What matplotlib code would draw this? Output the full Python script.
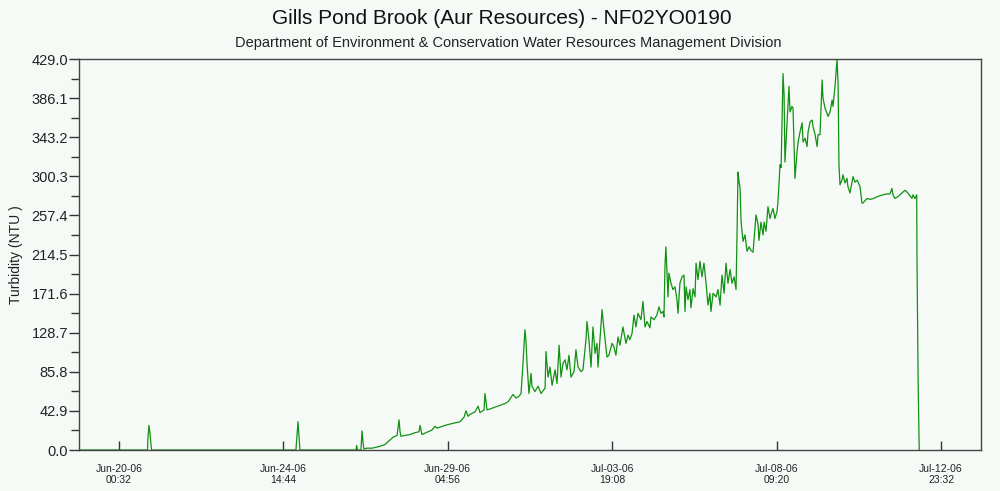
import datetime as dt
import matplotlib
matplotlib.use("Agg")
import matplotlib.pyplot as plt
import matplotlib.dates as mdates
from matplotlib.ticker import MultipleLocator, FormatStrFormatter

# hours after Jun-20-06 00:32, turbidity (NTU)
hours = [-26.1, 19.1, 19.4, 20.1, 20.8, 21.8, 118.6, 119.3, 120.0, 120.7, 121.3,
         158.9, 159.3, 159.9, 162.2, 162.9, 163.6, 164.2, 166.2, 169.6, 174.9,
         178.3, 180.3, 183.7, 186.4, 187.0, 187.7, 188.4, 189.0, 191.7, 195.1,
         198.4, 201.1, 201.8, 203.1, 207.1, 209.8, 211.8, 213.2, 218.5, 223.2,
         228.6, 231.3, 232.6, 234.0, 235.3, 238.7, 240.7, 242.0, 244.7, 245.3,
         246.7, 248.7, 252.0, 255.4, 258.7, 260.8, 262.1, 264.1, 266.1, 268.1,
         269.5, 270.8, 272.1, 272.8, 273.5, 274.8, 276.2, 276.8, 278.8, 280.9,
         282.9, 285.6, 286.2, 287.6, 288.9, 290.3, 292.3, 293.6, 295.0, 296.3,
         297.6, 299.0, 300.3, 301.6, 303.0, 305.0, 306.3, 307.7, 309.7, 311.0,
         313.0, 313.7, 315.0, 316.4, 317.7, 319.1, 320.4, 321.1, 322.4, 323.8,
         325.1, 327.1, 328.4, 330.5, 331.8, 333.1, 334.5, 335.8, 337.8, 339.8,
         341.2, 342.5, 343.9, 345.2, 346.5, 347.9, 349.9, 351.2, 352.6, 353.9,
         355.9, 356.6, 358.6, 360.6, 361.9, 363.3, 364.6, 365.3, 366.0, 366.6,
         368.0, 368.6, 370.0, 371.3, 372.7, 374.0, 374.7, 376.0, 377.4, 378.7,
         379.4, 380.1, 381.4, 382.7, 383.4, 384.8, 386.1, 386.8, 388.1, 389.4,
         390.8, 392.1, 393.5, 394.8, 396.1, 396.8, 398.2, 400.2, 401.5, 402.9,
         404.2, 405.6, 406.9, 408.2, 409.6, 410.9, 412.3, 413.6, 414.3, 414.9,
         415.6, 416.3, 417.0, 418.3, 419.6, 421.0, 422.3, 423.6, 425.0, 427.0,
         428.4, 429.0, 430.3, 431.7, 432.4, 433.7, 435.0, 436.4, 437.7, 438.4,
         439.7, 441.1, 441.7, 443.1, 443.8, 444.4, 445.1, 445.8, 446.4, 447.8,
         449.1, 449.8, 451.1, 451.8, 453.1, 454.5, 455.2, 456.5, 457.9, 458.5,
         459.9, 461.2, 461.9, 463.2, 464.6, 465.2, 466.6, 467.9, 468.6, 469.9,
         471.3, 471.9, 473.3, 474.6, 475.3, 476.6, 478.0, 478.6, 480.0, 481.3,
         482.0, 482.6, 483.3, 484.6, 485.3, 486.6, 488.0, 488.6, 490.0, 491.3,
         492.0, 493.3, 494.7, 495.4, 496.7, 498.0, 498.7, 501.4, 503.5, 505.7,
         508.3, 510.1, 512.1, 514.8, 516.8, 518.1, 518.8, 520.1, 522.2, 524.8,
         526.9, 528.8, 531.5, 532.2, 533.5, 534.7, 534.9, 535.7, 536.4]
ntu = [0, 0, 13, 27, 18, 0, 0, 16, 31, 14, 0,
       0, 5, 0, 0, 21, 8, 1, 2, 2, 4,
       6, 9, 14, 16, 24, 33, 20, 15, 16, 17,
       19, 20, 27, 17, 20, 22, 26, 24, 27, 29,
       31, 36, 43, 37, 39, 42, 48, 41, 44, 62,
       44, 45, 47, 49, 51, 53, 56, 61, 57, 59,
       62, 95, 132, 120, 95, 62, 84, 70, 64, 70,
       62, 68, 108, 80, 91, 71, 88, 73, 115, 80,
       95, 99, 88, 104, 80, 86, 110, 91, 86, 88,
       121, 141, 121, 91, 135, 106, 117, 91, 121, 154,
       132, 102, 104, 117, 113, 104, 124, 115, 135, 117,
       126, 121, 128, 148, 135, 150, 143, 163, 135, 141,
       134, 146, 143, 148, 157, 150, 152, 146, 203, 223,
       168, 194, 183, 176, 179, 165, 150, 183, 190, 192,
       152, 179, 165, 176, 156, 177, 168, 205, 187, 207,
       190, 205, 183, 159, 172, 152, 172, 168, 176, 159,
       192, 172, 205, 183, 198, 183, 190, 176, 240, 305,
       295, 287, 250, 229, 236, 218, 223, 219, 217, 258,
       247, 230, 250, 236, 250, 240, 267, 254, 262, 265,
       254, 262, 272, 313, 310, 360, 413, 390, 316, 360,
       399, 371, 377, 375, 298, 327, 338, 349, 359, 338,
       342, 333, 349, 360, 362, 355, 346, 333, 346, 346,
       406, 386, 375, 369, 366, 371, 384, 377, 400, 429,
       402, 313, 291, 296, 302, 293, 298, 289, 282, 294,
       300, 294, 296, 294, 289, 271, 271, 276, 275, 276,
       278, 279, 280, 281, 281, 287, 280, 276, 278, 282,
       285, 282, 276, 280, 276, 280, 209, 70, 0]

tick_labels = ["Jun-20-06\n00:32", "Jun-24-06\n14:44", "Jun-29-06\n04:56",
               "Jul-03-06\n19:08", "Jul-08-06\n09:20", "Jul-12-06\n23:32"]
y_max = 429.0
y_step = 42.9

base = dt.datetime(2006, 6, 20, 0, 32)
times = [base + dt.timedelta(hours=h) for h in hours]
tick_times = [base + dt.timedelta(hours=110.2 * i) for i in range(len(tick_labels))]

bg = "#f6faf6"
plt.rcParams["font.family"] = ["Liberation Sans", "DejaVu Sans"]

fig = plt.figure(figsize=(10, 4.91), dpi=100, facecolor=bg)
ax = fig.add_axes([0.079, 0.0835, 0.902, 0.7963], facecolor=bg)

ax.plot(times, ntu, color="#119111", lw=0.9)

ax.set_xlim(base - dt.timedelta(hours=26.8), base + dt.timedelta(hours=577.8))
ax.set_ylim(0, y_max)

ax.set_xticks(tick_times)
ax.set_xticklabels(tick_labels, fontsize=7.5, color="#222222")
ax.tick_params(axis="x", direction="in", length=6.5, width=1, color="#333333", pad=10)

ax.yaxis.set_major_locator(MultipleLocator(y_step))
ax.yaxis.set_minor_locator(MultipleLocator(y_step / 2))
ax.yaxis.set_major_formatter(FormatStrFormatter("%.1f"))
ax.tick_params(axis="y", which="major", direction="out", length=7, width=1,
               color="#333333", labelsize=10.5, pad=1, labelcolor="#222222")
ax.tick_params(axis="y", which="minor", direction="out", length=6, width=1, color="#333333")

for s in ax.spines.values():
    s.set_color("#444444")
    s.set_linewidth(1.0)

ax.set_ylabel("Turbidity (NTU )", fontsize=10, color="#222222", labelpad=6)

fig.text(0.502, 0.962, "Gills Pond Brook (Aur Resources) - NF02YO0190",
         ha="center", va="center", fontsize=15, color="#111111")
fig.text(0.508, 0.912, "Department of Environment & Conservation Water Resources Management Division",
         ha="center", va="center", fontsize=10.5, color="#222222")

fig.savefig("out.png", dpi=100, facecolor=bg)
